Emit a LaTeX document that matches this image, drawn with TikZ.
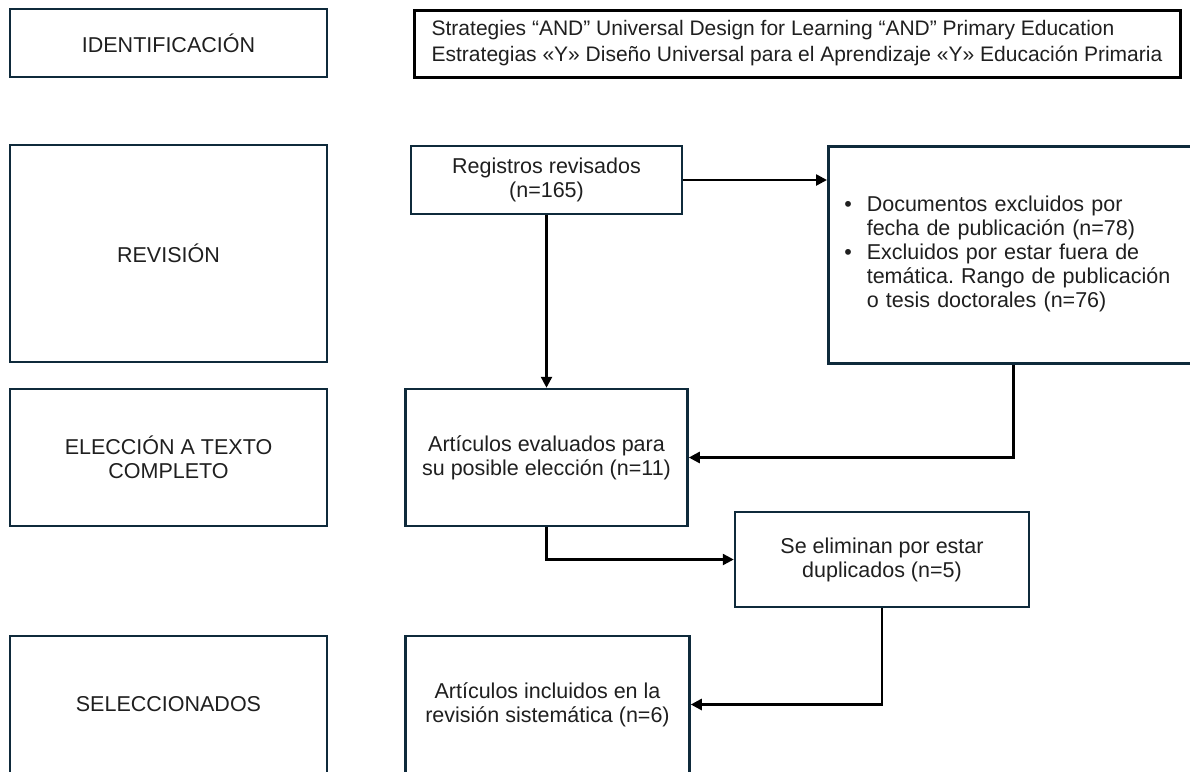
\documentclass[tikz,border=0pt]{standalone}
\usepackage{fontspec}
\setmainfont{Liberation Sans}
\usepackage{tikz}
\usetikzlibrary{arrows.meta}
\definecolor{boxline}{HTML}{0F2A3B}
\frenchspacing

\begin{document}
\begin{tikzpicture}[x=1pt, y=-1pt,
                font=\fontsize{21.5}{24}\selectfont,
                box/.style n args={2}{draw=boxline, line width=2.5pt,
                    text=black!88, align=center, inner sep=0pt,
                    minimum width=#1pt, minimum height=#2pt},
                link/.style={line width=2.5pt, -{Triangle[length=11pt,width=11pt]}}]
                \useasboundingbox (0,0) rectangle (1190,771);
                \clip (0,0) rectangle (1190,771);
                % stage column
                \node[box={317}{68}](ident) at (168.5,43) {IDENTIFICACIÓN};
                \node[box={317}{217}](revision) at (168.5,253.5) {REVISIÓN};
                \node[box={317}{137}](eleccion) at (168.5,457.5) {ELECCIÓN A TEXTO\\COMPLETO};
                \node[box={317}{137}](selec) at (168.5,704.5) {SELECCIONADOS};
                % search string
                \node[box={766}{67}, draw=black, line width=3pt, align=left,
                    font=\fontsize{21}{26}\selectfont](search) at (797,43.5)
                    {Strategies “AND” Universal Design for Learning “AND” Primary Education\\
                     Estrategias «Y» Diseño Universal para el Aprendizaje «Y» Educación Primaria};
                % flow
                \node[box={271}{68}](registros) at (546.5,180) {Registros revisados\\(n=165)};
                \node[box={370}{217}, anchor=north west, text width=338pt,
                    inner xsep=16pt, align=left](docs) at (827,145)
                    {\begin{tabular}{@{}l@{\hspace{15pt}}l@{}}
                     \textbullet & Documentos excluidos por\\
                                 & fecha de publicación (n=78)\\
                     \textbullet & Excluidos por estar fuera de\\
                                 & temática. Rango de publicación\\
                                 & o tesis doctorales (n=76)
                     \end{tabular}};
                \node[box={282}{137}](evaluados) at (546.5,457.5) {Artículos evaluados para\\su posible elección (n=11)};
                \node[box={294}{95}](duplicados) at (882,559.5) {Se eliminan por estar\\duplicados (n=5)};
                \node[box={284}{137}](incluidos) at (547.5,704.5) {Artículos incluidos en la\\revisión sistemática (n=6)};
                % connectors
                \draw[link] (registros.south) -- (evaluados.north);
                \draw[link] (registros.east) -- (registros.east -| docs.west);
                \draw[link] (docs.south) |- (evaluados.east);
                \draw[link] (evaluados.south) |- (duplicados.west);
                \draw[link] (duplicados.south) |- (incluidos.east);
            \end{tikzpicture}
\end{document}
